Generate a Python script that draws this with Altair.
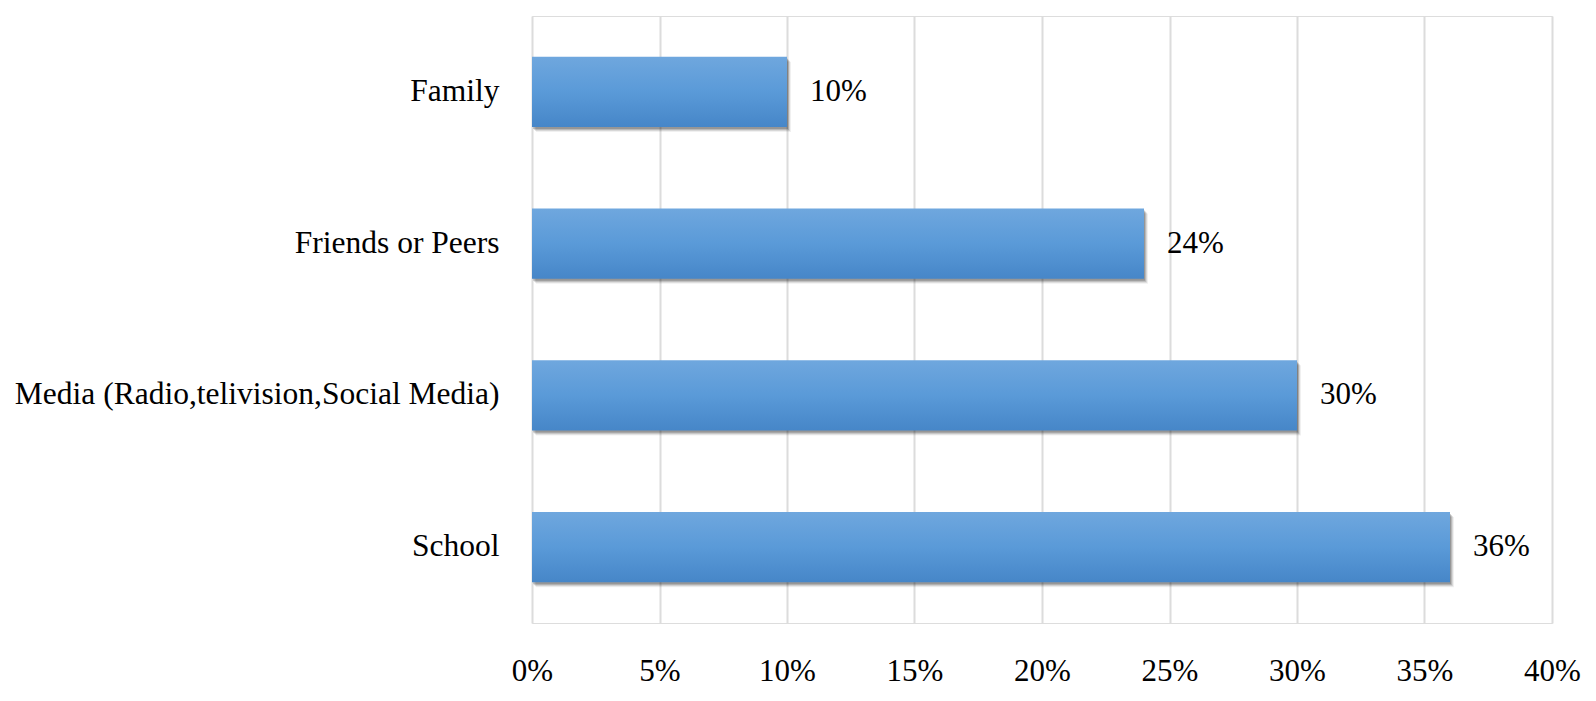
import altair as alt
import pandas as pd

categories = ["Family", "Friends or Peers\u00a0", "Media (Radio,telivision,Social Media)", "School\u00a0"]
values = [0.10, 0.24, 0.30, 0.36]
labels = ["10%", "24%", "30%", "36%"]
ticks = [0, 0.05, 0.10, 0.15, 0.20, 0.25, 0.30, 0.35, 0.40]

df = pd.DataFrame({"cat": categories, "val": values, "lab": labels})

FONT = "Liberation Serif"
XSCALE = alt.Scale(domain=[0, 0.4], nice=False)

y_enc = alt.Y("cat:N", sort=categories, title=None,
              scale=alt.Scale(paddingInner=0.536, paddingOuter=0.268),
              axis=alt.Axis(ticks=False, domain=False, grid=False, labelFont=FONT,
                            labelFontSize=31.5, labelColor="#000000", labelPadding=33,
                            minExtent=524, maxExtent=524, labelLimit=700))
x_enc = alt.X("val:Q", title=None, scale=XSCALE,
              axis=alt.Axis(values=ticks, format=".0%", ticks=False, domain=False,
                            grid=True, gridColor="#dcdcdc", gridWidth=2,
                            labelFont=FONT, labelFontSize=31, labelColor="#000000",
                            labelPadding=33, labelFlush=False, labelOverlap=False))

base = alt.Chart(df)

shadows = [
    base.mark_bar(color="#000000", opacity=op, xOffset=o, x2Offset=o + 1, yOffset=o + 1, y2Offset=o + 2)
    .encode(x=alt.X("val:Q", scale=XSCALE), y=alt.Y("cat:N", sort=categories))
    for o, op in [(1, 0.18), (2, 0.14), (3, 0.10), (4, 0.06)]
]

grad = alt.Gradient(
    gradient="linear",
    stops=[alt.GradientStop(color="#6fa7de", offset=0),
           alt.GradientStop(color="#5a9ad8", offset=0.5),
           alt.GradientStop(color="#4686c8", offset=1)],
    x1=0, x2=0, y1=0, y2=1,
)

bars = base.mark_bar(color=grad).encode(x=x_enc, y=y_enc)

text = base.mark_text(align="left", baseline="middle", dx=23, font=FONT, fontSize=31,
                      color="#000000").encode(
    x=alt.X("val:Q", scale=XSCALE), y=alt.Y("cat:N", sort=categories), text="lab:N")

chart = alt.layer(*shadows, bars, text).properties(
    width=1020, height=607,
    padding={"left": 0, "top": 8, "right": 4, "bottom": 0},
).configure_view(stroke=None).configure(background="white")

chart.save("out.html", embed_options={"renderer": "svg", "actions": False})
